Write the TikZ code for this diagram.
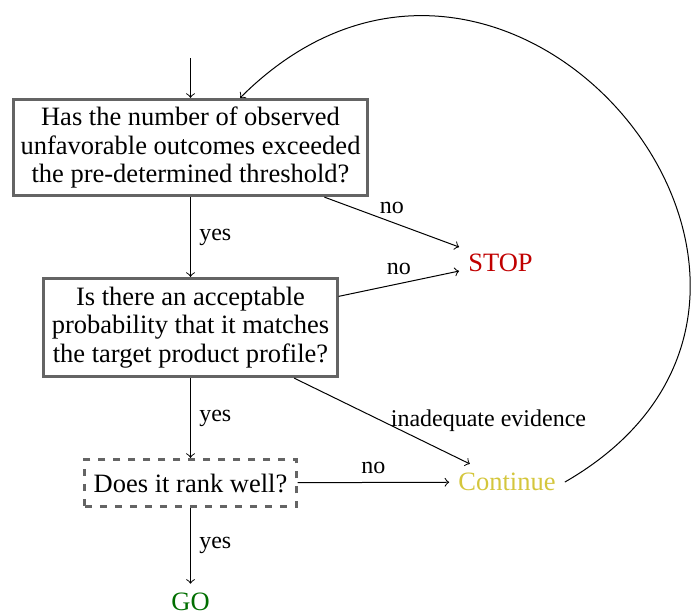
\documentclass[tikz,border=0pt]{standalone}
\usepackage{fontspec}
\setmainfont{Liberation Serif}
\definecolor{boxgray}{RGB}{100,100,100}
\definecolor{stopred}{RGB}{192,0,0}
\definecolor{contyellow}{RGB}{212,198,60}
\definecolor{gogreen}{RGB}{0,110,0}
\newcommand{\mainsz}{\fontsize{10.6}{11.3}\selectfont}
\newcommand{\labsz}{\fontsize{9.6}{11}\selectfont}
\begin{document}
\begin{tikzpicture}[x=0.4pt,y=-0.4pt,
  box/.style={draw=boxgray, line width=1.1pt, align=center, inner sep=0pt, font=\mainsz},
  outcome/.style={font=\mainsz, inner sep=3.5pt},
  lab/.style={font=\labsz},
  conn/.style={->, line width=0.4pt}]
\useasboundingbox (0,0) rectangle (691,613);
\node[box, minimum width=141.8pt, minimum height=38.6pt] (q1) at (190.5,147.5)
  {Has the number of observed\\unfavorable outcomes exceeded\\the pre-determined threshold?};
\node[box, minimum width=117.4pt, minimum height=39.4pt] (q2) at (190.5,327.5)
  {Is there an acceptable\\probability that it matches\\the target product profile?};
\node[box, dashed, minimum width=84.6pt, minimum height=19pt] (q3) at (190.5,483)
  {Does it rank well?};
\node[outcome, text=stopred, anchor=base] (stop) at (500.5,271) {STOP};
\node[outcome, text=contyellow, anchor=base] (cont) at (507,490.7) {Continue};
\node[outcome, text=gogreen, anchor=base] (go) at (190.5,610.5) {GO};
\coordinate (entry) at (190.5,58);
\draw[conn] (entry) -- (q1);
\draw[conn] (q1) -- node[lab, right] {yes} (q2);
\draw[conn] (q2) -- node[lab, right] {yes} (q3);
\draw[conn] (q3) -- node[lab, right] {yes} (go);
\draw[conn] (q1) -- node[lab, above] {no} (stop);
\draw[conn] (q2) -- node[lab, above] {no} (stop);
\draw[conn] (q2) -- node[lab, right] {inadequate evidence} (cont);
\draw[conn] (q3) -- node[lab, above] {no} (cont);
\draw[conn] (cont.east) .. controls (890,295) and (510.7,-171.7) .. (q1.45);
\end{tikzpicture}
\end{document}
